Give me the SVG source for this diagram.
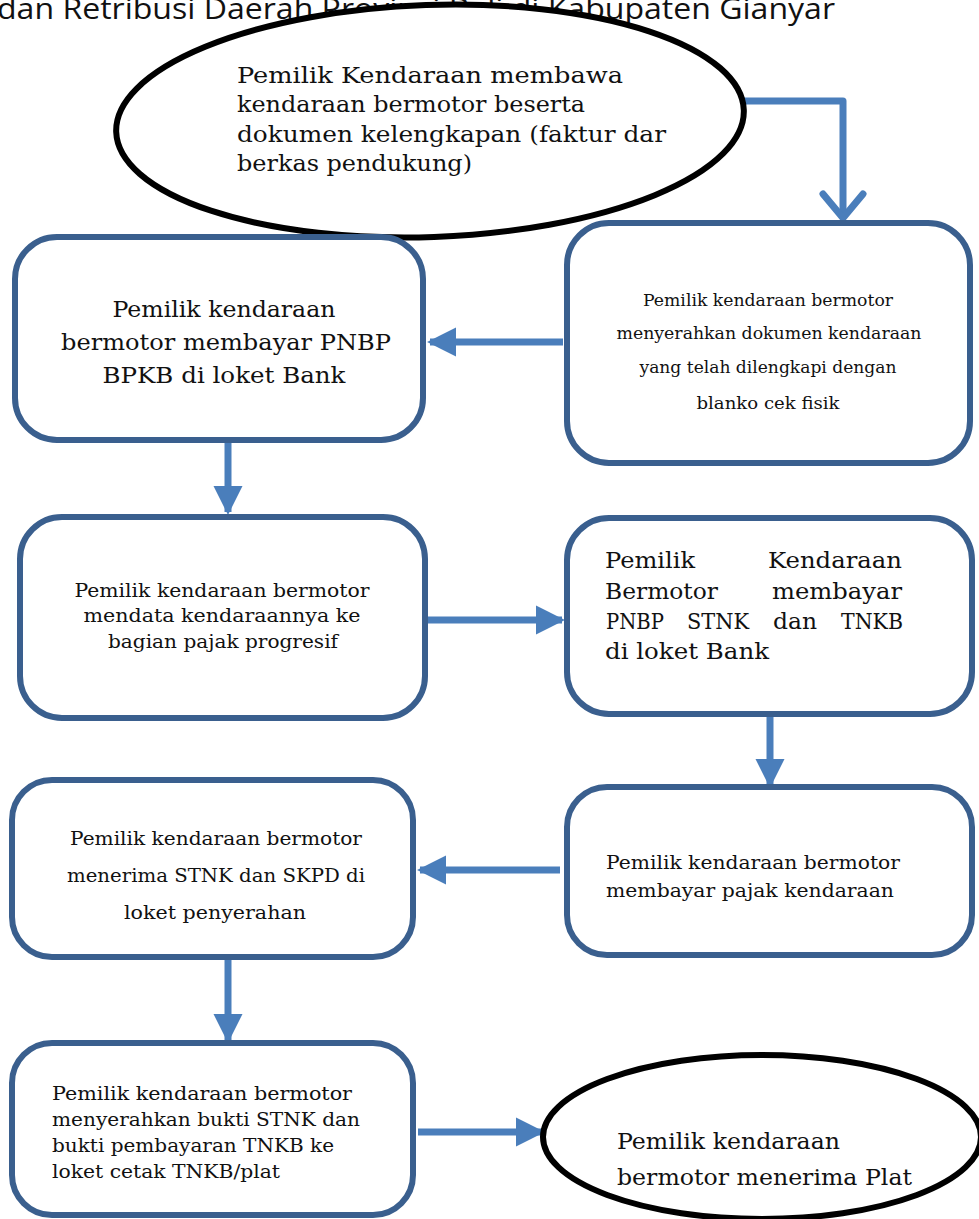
<svg xmlns="http://www.w3.org/2000/svg" width="979" height="1219" viewBox="0 0 979 1219">
<defs>
<style>
.box{fill:#fff;stroke:#3A5F8E;stroke-width:6}
.ell{fill:#fff;stroke:#000;stroke-width:6}
.con{fill:none;stroke:#4A7EBB;stroke-width:7}
.t{font-family:"DejaVu Serif","Liberation Serif",serif;fill:#111}
.m{text-anchor:middle}
.title{font-family:"Open Sans","Noto Sans",sans-serif;font-size:30px;fill:#111}
</style>
<marker id="tri" viewBox="0 0 10 10" refX="9" refY="5" markerWidth="4.2" markerHeight="5.2" orient="auto" markerUnits="strokeWidth">
<path d="M0,0 L10,5 L0,10 z" fill="#4A7EBB"/>
</marker>
</defs>
<text class="title" x="-3" y="19" textLength="838" lengthAdjust="spacingAndGlyphs">dan Retribusi Daerah Provinsi Bali di Kabupaten Gianyar</text>

<g id="connectors">
<path class="con" d="M740,101 H843 V218" stroke-linejoin="round"/>
<path class="con" d="M823,194 L843,218 L863,194" stroke-linecap="round" stroke-linejoin="round"/>
<line class="con" x1="563" y1="342" x2="430" y2="342" marker-end="url(#tri)"/>
<line class="con" x1="228" y1="443" x2="228" y2="512" marker-end="url(#tri)"/>
<line class="con" x1="428" y1="620" x2="562" y2="620" marker-end="url(#tri)"/>
<line class="con" x1="770" y1="717" x2="770" y2="785" marker-end="url(#tri)"/>
<line class="con" x1="560" y1="870" x2="420" y2="870" marker-end="url(#tri)"/>
<line class="con" x1="228" y1="960" x2="228" y2="1040" marker-end="url(#tri)"/>
<line class="con" x1="418" y1="1132" x2="542" y2="1132" marker-end="url(#tri)"/>
</g>

<g id="start">
<ellipse class="ell" cx="430" cy="121" rx="314" ry="116" transform="rotate(-2 430 121)"/>
<g class="t" font-size="21.5">
<text x="237" y="83" textLength="386" lengthAdjust="spacingAndGlyphs">Pemilik Kendaraan membawa</text>
<text x="237" y="112" textLength="348" lengthAdjust="spacingAndGlyphs">kendaraan bermotor beserta</text>
<text x="237" y="142" textLength="429" lengthAdjust="spacingAndGlyphs">dokumen kelengkapan (faktur dar</text>
<text x="237" y="171" textLength="235" lengthAdjust="spacingAndGlyphs">berkas pendukung)</text>
</g>
</g>

<g id="node-serah">
<rect class="box" x="567" y="223" width="403" height="240" rx="42"/>
<g class="t m" font-size="16">
<text x="768" y="306" textLength="250" lengthAdjust="spacingAndGlyphs">Pemilik kendaraan bermotor</text>
<text x="769" y="339" textLength="305" lengthAdjust="spacingAndGlyphs">menyerahkan dokumen kendaraan</text>
<text x="768" y="373" textLength="257" lengthAdjust="spacingAndGlyphs">yang telah dilengkapi dengan</text>
<text x="768" y="409" textLength="143" lengthAdjust="spacingAndGlyphs">blanko cek fisik</text>
</g>
</g>

<g id="node-bpkb">
<rect class="box" x="15" y="237" width="408" height="203" rx="42"/>
<g class="t m" font-size="22.5">
<text x="224" y="317" textLength="223" lengthAdjust="spacingAndGlyphs">Pemilik kendaraan</text>
<text x="226" y="350" textLength="330" lengthAdjust="spacingAndGlyphs">bermotor membayar PNBP</text>
<text x="224" y="383" textLength="243" lengthAdjust="spacingAndGlyphs">BPKB di loket Bank</text>
</g>
</g>

<g id="node-progresif">
<rect class="box" x="20" y="517" width="405" height="201" rx="42"/>
<g class="t m" font-size="18">
<text x="222" y="597" textLength="295" lengthAdjust="spacingAndGlyphs">Pemilik kendaraan bermotor</text>
<text x="222" y="622" textLength="277" lengthAdjust="spacingAndGlyphs">mendata kendaraannya ke</text>
<text x="223" y="648" textLength="230" lengthAdjust="spacingAndGlyphs">bagian pajak progresif</text>
</g>
</g>

<g id="node-stnk">
<rect class="box" x="567" y="518" width="405" height="196" rx="42"/>
<g class="t" font-size="22.5">
<text x="605" y="568" textLength="90" lengthAdjust="spacingAndGlyphs">Pemilik</text>
<text x="768" y="568" textLength="134" lengthAdjust="spacingAndGlyphs">Kendaraan</text>
<text x="605" y="599" textLength="113" lengthAdjust="spacingAndGlyphs">Bermotor</text>
<text x="772" y="599" textLength="130" lengthAdjust="spacingAndGlyphs">membayar</text>
<text x="606" y="629" textLength="58" lengthAdjust="spacingAndGlyphs">PNBP</text>
<text x="687" y="629" textLength="62" lengthAdjust="spacingAndGlyphs">STNK</text>
<text x="773" y="629" textLength="44" lengthAdjust="spacingAndGlyphs">dan</text>
<text x="841" y="629" textLength="62" lengthAdjust="spacingAndGlyphs">TNKB</text>
<text x="605" y="659" textLength="164" lengthAdjust="spacingAndGlyphs">di loket Bank</text>
</g>
</g>

<g id="node-pajak">
<rect class="box" x="567" y="787" width="405" height="168" rx="40"/>
<g class="t" font-size="18.5">
<text x="606" y="869" textLength="294" lengthAdjust="spacingAndGlyphs">Pemilik kendaraan bermotor</text>
<text x="606" y="897" textLength="288" lengthAdjust="spacingAndGlyphs">membayar pajak kendaraan</text>
</g>
</g>

<g id="node-terima">
<rect class="box" x="12" y="780" width="401" height="177" rx="40"/>
<g class="t m" font-size="18">
<text x="216" y="845" textLength="292" lengthAdjust="spacingAndGlyphs">Pemilik kendaraan bermotor</text>
<text x="216" y="882" textLength="298" lengthAdjust="spacingAndGlyphs">menerima STNK dan SKPD di</text>
<text x="215" y="919" textLength="182" lengthAdjust="spacingAndGlyphs">loket penyerahan</text>
</g>
</g>

<g id="node-cetak">
<rect class="box" x="12" y="1043" width="401" height="172" rx="40"/>
<g class="t" font-size="18">
<text x="52" y="1100" textLength="300" lengthAdjust="spacingAndGlyphs">Pemilik kendaraan bermotor</text>
<text x="52" y="1126" textLength="308" lengthAdjust="spacingAndGlyphs">menyerahkan bukti STNK dan</text>
<text x="52" y="1152" textLength="282" lengthAdjust="spacingAndGlyphs">bukti pembayaran TNKB ke</text>
<text x="52" y="1178" textLength="228" lengthAdjust="spacingAndGlyphs">loket cetak TNKB/plat</text>
</g>
</g>

<g id="end">
<ellipse class="ell" cx="762" cy="1137" rx="219" ry="82"/>
<g class="t" font-size="22.5">
<text x="617" y="1149" textLength="223" lengthAdjust="spacingAndGlyphs">Pemilik kendaraan</text>
<text x="617" y="1185" textLength="295" lengthAdjust="spacingAndGlyphs">bermotor menerima Plat</text>
</g>
</g>
</svg>
